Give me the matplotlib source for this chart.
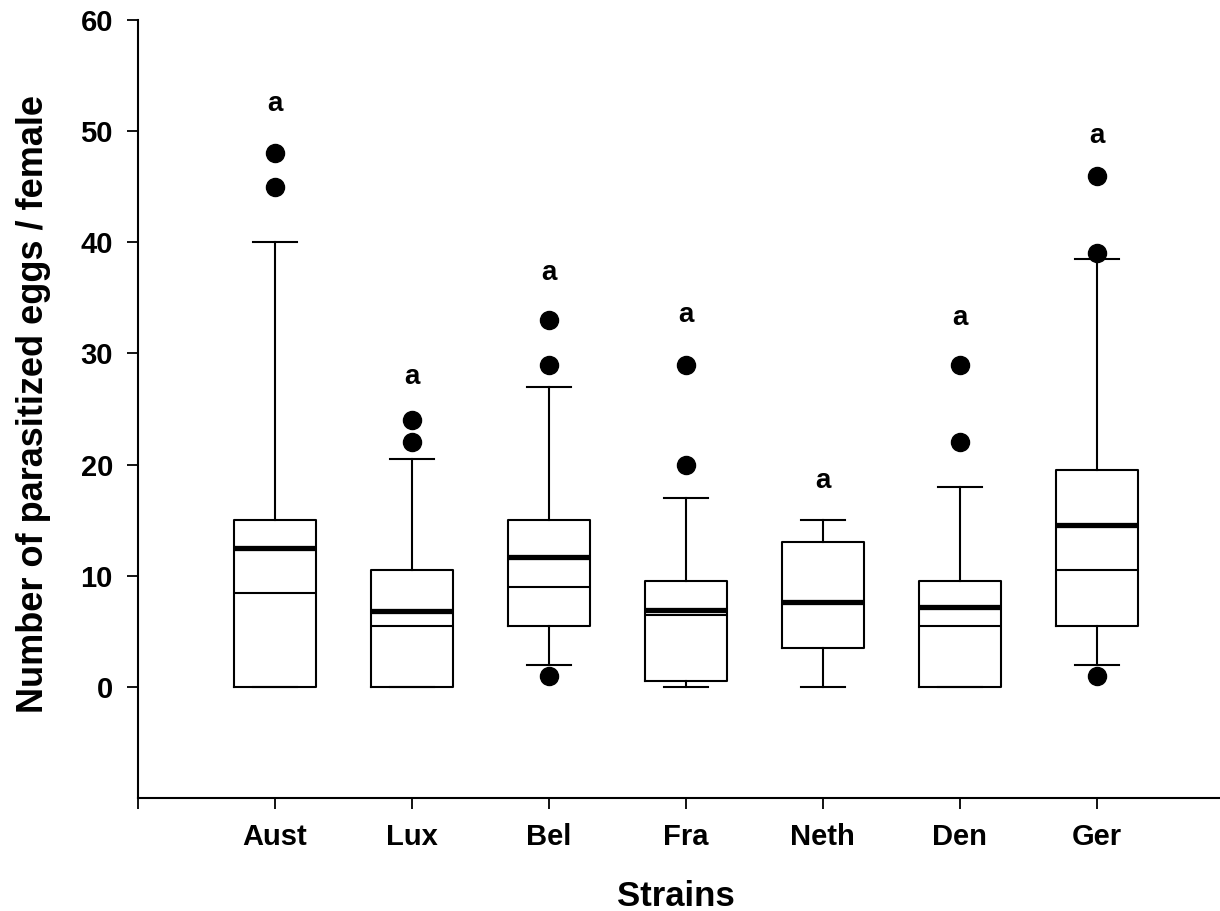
import matplotlib
matplotlib.use('Agg')
import matplotlib.pyplot as plt

plt.rcParams['font.family'] = ['Liberation Sans', 'DejaVu Sans']
plt.rcParams['font.weight'] = 'bold'

# data
strains = ['Aust', 'Lux', 'Bel', 'Fra', 'Neth', 'Den', 'Ger']
q1 = [0, 0, 5.5, 0.5, 3.5, 0, 5.5]
q3 = [15, 10.5, 15, 9.5, 13, 9.5, 19.5]
medians = [8.4, 5.5, 9.0, 6.5, 7.6, 5.5, 10.5]
means = [12.5, 6.8, 11.7, 6.9, 7.6, 7.2, 14.6]
whisk_lo = [0, 0, 2, 0, 0, 0, 2]
whisk_hi = [40, 20.5, 27, 17, 15, 18, 38.5]
outliers = [[48, 45], [24, 22], [33, 29, 1], [29, 20], [], [29, 22], [46, 39, 1]]
letters = ['a', 'a', 'a', 'a', 'a', 'a', 'a']
letter_y = [52.4, 27.9, 37.2, 33.5, 18.5, 33.2, 49.6]

stats = []
for i in range(len(strains)):
    stats.append({'label': strains[i], 'q1': q1[i], 'q3': q3[i], 'med': medians[i],
                  'mean': means[i], 'whislo': whisk_lo[i], 'whishi': whisk_hi[i],
                  'fliers': outliers[i]})

fig = plt.figure(figsize=(12.2, 9.11), dpi=100)
ax = fig.add_axes([138/1220, 1 - 798/911, 1 - 138/1220, (798 - 20)/911])

pos = list(range(1, len(strains) + 1))
ax.bxp(stats, positions=pos, widths=0.6, capwidths=0.32,
       showmeans=True, meanline=True,
       boxprops=dict(color='black', linewidth=1.5),
       whiskerprops=dict(color='black', linewidth=1.5),
       capprops=dict(color='black', linewidth=1.5),
       medianprops=dict(color='black', linewidth=1.5),
       meanprops=dict(color='black', linestyle='-', linewidth=3.8),
       flierprops=dict(marker='o', markerfacecolor='black', markeredgecolor='black',
                       markersize=13))

for p, t, y in zip(pos, letters, letter_y):
    ax.text(p, y, t, ha='center', va='center', fontsize=20, fontweight='bold')

ax.set_xlim(0, 7.9)
ax.set_ylim(-10, 60)
ax.set_yticks([0, 10, 20, 30, 40, 50, 60])
ax.set_xticks([0] + pos)
ax.set_xticklabels([''] + strains)
ax.tick_params(axis='both', direction='out', length=8, width=1.3, labelsize=21, pad=10)

for s in ['top', 'right']:
    ax.spines[s].set_visible(False)
for s in ['left', 'bottom']:
    ax.spines[s].set_linewidth(1.5)

ax.set_ylabel('Number of parasitized eggs / female', fontsize=26, fontweight='bold')
ax.yaxis.set_label_coords(-0.08, 0.506)
ax.set_xlabel('Strains', fontsize=25, fontweight='bold')
ax.xaxis.set_label_coords(0.497, -0.105)

fig.savefig('out.png', dpi=100)
